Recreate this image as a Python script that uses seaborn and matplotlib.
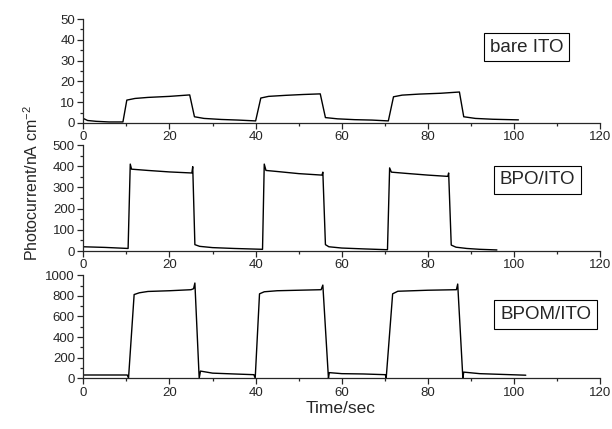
import pandas as pd
import seaborn as sns
import matplotlib.pyplot as plt
from matplotlib.ticker import MultipleLocator

# bare ITO trace (time in s, photocurrent in nA cm-2)
bare_t = [0, 1, 3, 6, 9.2, 10.1, 12, 15, 20, 24.7, 25.8, 28, 32, 36, 40,
          41.2, 43, 47, 51, 55, 56.2, 59, 63, 67, 70.8, 72, 74, 78, 83,
          87.3, 88.3, 91, 95, 101]
bare_i = [2.2, 1.2, 0.8, 0.5, 0.5, 11, 11.8, 12.3, 12.8, 13.5, 3.0, 2.2,
          1.7, 1.4, 1.0, 12.0, 12.8, 13.3, 13.7, 14.0, 2.6, 2.0, 1.6, 1.4,
          1.0, 12.6, 13.4, 13.9, 14.3, 14.9, 3.0, 2.2, 1.8, 1.5]

# BPO/ITO trace
bpo_t = [0, 5, 10.4, 10.9, 11.2, 15, 20, 25.2, 25.4, 25.9, 27, 30, 35,
         41.6, 42.0, 42.4, 45, 50, 55.4, 55.6, 56.2, 57, 60, 65, 70.6,
         71.1, 71.5, 75, 80, 84.6, 84.8, 85.4, 86.5, 89, 92, 96]
bpo_i = [20, 17, 12, 410, 386, 380, 373, 368, 398, 30, 22, 16, 12,
         8, 410, 380, 375, 365, 358, 372, 30, 20, 14, 10, 6,
         392, 372, 366, 358, 352, 368, 28, 18, 12, 8, 5]

# BPOM/ITO trace
bpom_t = [0, 10.2, 10.5, 11.8, 13, 15, 20, 25, 25.6, 25.9, 26.9, 27.2, 30,
          35, 39.6, 39.9, 40.9, 42, 45, 50, 55.2, 55.6, 56.9, 57.1, 60, 65,
          70.1, 70.3, 71.8, 73, 80, 86.6, 86.9, 88.1, 88.3, 92, 97, 102.7]
bpom_i = [32, 32, 2, 813, 830, 843, 850, 860, 870, 925, 0, 70, 50,
          42, 35, 0, 820, 840, 850, 855, 860, 905, 0, 55, 45, 42,
          35, 0, 820, 845, 855, 860, 915, 0, 60, 45, 38, 30]

labels = ["bare ITO", "BPO/ITO", "BPOM/ITO"]

sns.set_style("ticks")
plt.rcParams["font.family"] = ["Liberation Sans", "DejaVu Sans"]
plt.rcParams["mathtext.fontset"] = "custom"
plt.rcParams["mathtext.rm"] = "Liberation Sans"
plt.rcParams["mathtext.it"] = "Liberation Sans:italic"

fig = plt.figure(figsize=(6.12, 4.29), dpi=100)

panels = [
    (bare_t, bare_i, 50, 10, 5, [0.1361, 0.7133, 0.8448, 0.2424], (0.857, 0.73)),
    (bpo_t, bpo_i, 500, 100, 50, [0.1361, 0.4149, 0.8448, 0.2471], (0.878, 0.67)),
    (bpom_t, bpom_i, 1000, 200, 100, [0.1361, 0.1182, 0.8448, 0.2401], (0.894, 0.62)),
]

for (t, i, ymax, major, minor, rect, lpos), name in zip(panels, labels):
    ax = fig.add_axes(rect)
    df = pd.DataFrame({"t": t, "i": i})
    sns.lineplot(data=df, x="t", y="i", ax=ax, color="black", lw=1.0,
                 estimator=None, sort=False)
    ax.set_xlim(0, 120)
    ax.set_ylim(0, ymax)
    ax.xaxis.set_major_locator(MultipleLocator(20))
    ax.xaxis.set_minor_locator(MultipleLocator(10))
    ax.yaxis.set_major_locator(MultipleLocator(major))
    ax.yaxis.set_minor_locator(MultipleLocator(minor))
    ax.tick_params(which="major", length=4, width=0.9, labelsize=9.5, pad=2)
    ax.tick_params(which="minor", length=2.5, width=0.9)
    for s in ["left", "bottom"]:
        ax.spines[s].set_linewidth(0.9)
    sns.despine(ax=ax)
    ax.set_xlabel("")
    ax.set_ylabel("")
    ax.patch.set_alpha(0)
    ax.text(lpos[0], lpos[1], name, transform=ax.transAxes, ha="center",
            va="center", fontsize=13.5,
            bbox=dict(boxstyle="square,pad=0.3", fc="white", ec="black", lw=0.8))

fig.text(0.556, 0.047, "Time/sec", ha="center", va="center", fontsize=12.5)
fig.text(0.051, 0.573, "Photocurrent/nA cm$^{-2}$", ha="center", va="center",
         rotation=90, fontsize=11.5)

fig.savefig("out.png", dpi=100)
